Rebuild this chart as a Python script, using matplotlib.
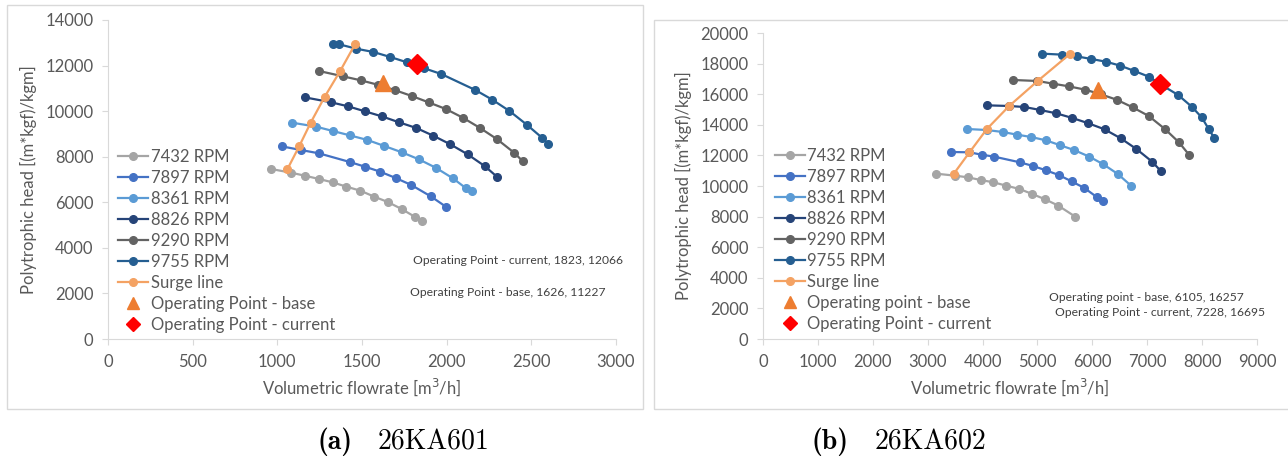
import matplotlib
matplotlib.use("Agg")
import matplotlib.pyplot as plt
from matplotlib.patches import Rectangle

plt.rcParams['font.family'] = ['Lato', 'DejaVu Sans']

rpm_labels = ['7432 RPM', '7897 RPM', '8361 RPM', '8826 RPM', '9290 RPM', '9755 RPM']
rpm_colors = ['#a5a5a5', '#4472c4', '#5b9bd5', '#264478', '#636363', '#255e91']

# ---- 26KA601 ----
a_x = [
    [963, 1080, 1162, 1246, 1326, 1408, 1490, 1572, 1652, 1734, 1814, 1853],
    [1025, 1139, 1246, 1428, 1517, 1607, 1699, 1791, 1906, 1998],
    [1087, 1229, 1328, 1428, 1532, 1632, 1736, 1836, 1935, 2037, 2115, 2152],
    [1162, 1318, 1418, 1517, 1617, 1719, 1821, 1920, 2022, 2124, 2224, 2299],
    [1246, 1388, 1493, 1592, 1692, 1794, 1893, 1995, 2095, 2194, 2296, 2398, 2450],
    [1326, 1366, 1465, 1567, 1667, 1766, 1868, 1968, 2169, 2269, 2371, 2473, 2565, 2600],
]
a_y = [
    [7461, 7300, 7168, 7022, 6876, 6685, 6510, 6247, 6013, 5705, 5354, 5179],
    [8456, 8295, 8148, 7768, 7563, 7344, 7066, 6759, 6261, 5793],
    [9494, 9319, 9128, 8938, 8734, 8470, 8192, 7885, 7519, 7051, 6612, 6481],
    [10606, 10387, 10211, 9992, 9772, 9509, 9260, 8924, 8543, 8104, 7592, 7110],
    [11762, 11528, 11352, 11162, 10928, 10665, 10387, 10094, 9714, 9275, 8777, 8178, 7797],
    [12947, 12932, 12742, 12596, 12376, 12142, 11879, 11630, 10928, 10504, 10006, 9406, 8821, 8558],
]
a_surge_x = [1060, 1129, 1197, 1279, 1371, 1460]
a_surge_y = [7461, 8456, 9494, 10621, 11762, 12947]
a_base = (1626, 11227)
a_current = (1823, 12066)

# ---- 26KA602 ----
b_x = [
    [3153, 3499, 3732, 3966, 4199, 4432, 4673, 4906, 5140, 5380, 5689],
    [3424, 3762, 3981, 4214, 4681, 4921, 5155, 5388, 5621, 5855, 6088, 6201],
    [3710, 4079, 4365, 4628, 4884, 5155, 5418, 5666, 5945, 6201, 6464, 6712],
    [4079, 4485, 4763, 5049, 5343, 5636, 5930, 6223, 6517, 6803, 7089, 7247],
    [4560, 5001, 5283, 5569, 5870, 6155, 6441, 6735, 7028, 7322, 7578, 7766],
    [5087, 5456, 5712, 5983, 6246, 6510, 6766, 7029, 7292, 7563, 7811, 7992, 8120, 8218],
]
b_y = [
    [10806, 10676, 10567, 10392, 10240, 10022, 9804, 9477, 9129, 8715, 7996],
    [12223, 12201, 12048, 11917, 11547, 11307, 11024, 10719, 10305, 9870, 9259, 9020],
    [13726, 13660, 13530, 13356, 13203, 12985, 12658, 12353, 11917, 11416, 10785, 10000],
    [15273, 15229, 15164, 14968, 14750, 14445, 14096, 13704, 13116, 12418, 11591, 10981],
    [16929, 16863, 16689, 16515, 16297, 15992, 15643, 15142, 14575, 13726, 12854, 12026],
    [18650, 18584, 18475, 18301, 18126, 17865, 17517, 17146, 16536, 15948, 15185, 14488, 13726, 13159],
]
b_surge_x = [3477, 3762, 4079, 4485, 5004, 5591]
b_surge_y = [10806, 12201, 13726, 15229, 16863, 18628]
b_base = (6105, 16257)
b_current = (7228, 16695)

W, H = 1288, 461
fig = plt.figure(figsize=(W / 100, H / 100), dpi=100)

# panel frames
fig.patches.append(Rectangle((7 / W, 1 - 409 / H), 636 / W, 404 / H, transform=fig.transFigure,
                             fill=False, edgecolor='#d9d9d9', lw=1))
fig.patches.append(Rectangle((654 / W, 1 - 409 / H), 640 / W, 389 / H, transform=fig.transFigure,
                             fill=False, edgecolor='#d9d9d9', lw=1))

grey = '#595959'


def panel(rect, xs, ys, sx, sy, base, cur, xmax, xstep, ymax, ystep, base_name, leg_at, notes):
    ax = fig.add_axes(rect)
    for x, y, lab, c in zip(xs, ys, rpm_labels, rpm_colors):
        ax.plot(x, y, '-o', color=c, lw=1.6, ms=5.5, label=lab)
    ax.plot(sx, sy, '-o', color='#f4a263', lw=1.6, ms=5.5, label='Surge line')
    ax.plot(*base, '^', color='#ed7d31', ms=11, ls='none', label=base_name)
    ax.plot(*cur, 'D', color='#ff0000', ms=10, ls='none', label='Operating Point - current')
    ax.set_xlim(0, xmax)
    ax.set_ylim(0, ymax)
    ax.set_xticks(range(0, xmax + 1, xstep))
    ax.set_yticks(range(0, ymax + 1, ystep))
    for s in ['top', 'right']:
        ax.spines[s].set_visible(False)
    for s in ['left', 'bottom']:
        ax.spines[s].set_color('#d9d9d9')
    ax.tick_params(colors='#d9d9d9', labelcolor=grey, labelsize=12, length=4.5, pad=6)
    ax.set_xlabel('Volumetric flowrate [m$^3$/h]', color=grey, fontsize=12, labelpad=5)
    ax.set_ylabel('Polytrophic head [(m*kgf)/kgm]', color=grey, fontsize=12, labelpad=6)
    leg = ax.legend(loc='upper left', bbox_to_anchor=leg_at, frameon=False, fontsize=12,
                    labelspacing=0.3, handlelength=1.8, handletextpad=0.15, borderpad=0,
                    borderaxespad=0, labelcolor=grey)
    leg.legend_handles[-2].set_markersize(8)
    leg.legend_handles[-1].set_markersize(7)
    for (tx, ty, t) in notes:
        ax.text(tx, ty, t, transform=ax.transAxes, fontsize=8.7, color='#404040', va='center')
    return ax


panel([108 / W, 1 - 339 / H, 508 / W, 319 / H], a_x, a_y, a_surge_x, a_surge_y,
      a_base, a_current, 3000, 500, 14000, 2000, 'Operating Point - base', (0.02, 0.595),
      [(0.600, 0.247, 'Operating Point - current, 1823, 12066'),
       (0.594, 0.147, 'Operating Point - base, 1626, 11227')])

panel([763 / W, 1 - 339 / H, 494 / W, 306 / H], b_x, b_y, b_surge_x, b_surge_y,
      b_base, b_current, 9000, 1000, 20000, 2000, 'Operating point - base', (0.024, 0.625),
      [(0.579, 0.137, 'Operating point - base, 6105, 16257'),
       (0.591, 0.088, 'Operating Point - current, 7228, 16695')])

fig.text(318 / W, 1 - 442 / H, '(a)', fontfamily='cmb10', fontsize=20, va='center')
fig.text(378 / W, 1 - 442 / H, '26KA601', fontfamily='cmr10', fontsize=20, va='center')
fig.text(811 / W, 1 - 442 / H, '(b)', fontfamily='cmb10', fontsize=20, va='center')
fig.text(875 / W, 1 - 442 / H, '26KA602', fontfamily='cmr10', fontsize=20, va='center')

fig.savefig('out.png', dpi=100)
